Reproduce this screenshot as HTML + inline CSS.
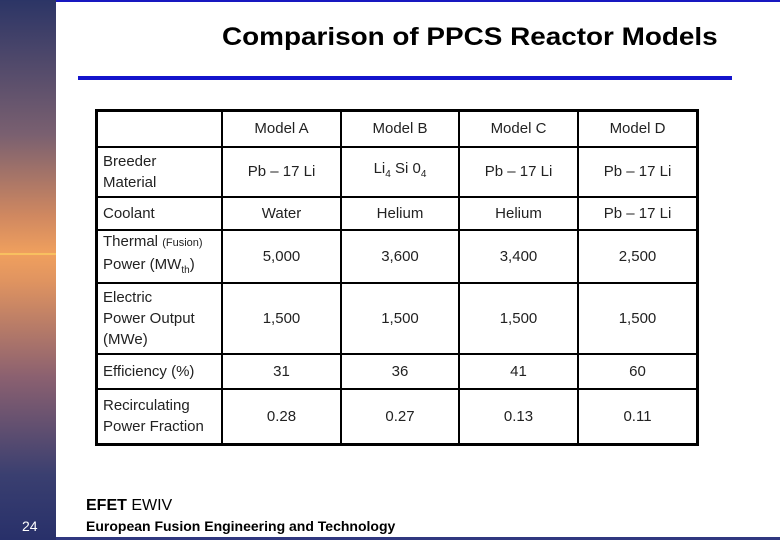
<!DOCTYPE html>
<html><head><style>
body{margin:0;width:780px;height:540px;position:relative;background:#fff;font-family:"Liberation Sans",sans-serif;overflow:hidden}
.side{position:absolute;left:0;top:0;width:56px;height:540px;background:linear-gradient(#2c3566 0%,#7a6070 25%,#d08860 40%,#f0a05e 47%,#e09460 52%,#8a6070 70%,#3a3f70 88%,#28306a 100%)}
.gl{position:absolute;left:0;top:253px;width:56px;height:2px;background:#f8c060}
table{position:absolute;left:95px;top:109px;border-collapse:collapse;border:3px solid #000}
td{border:2px solid #000;font-size:15px;color:#222;text-align:center;padding:0;line-height:21px}
td.h{text-align:left;padding-left:5px}
</style></head><body>
<div class="side"></div>
<div class="gl"></div>
<div style="position:absolute;left:56px;top:0;width:724px;height:2px;background:#1818c0"></div>
<div style="position:absolute;left:222px;top:23px;font-size:25px;font-weight:bold;color:#000;transform:scaleX(1.115);transform-origin:left">Comparison of PPCS Reactor Models</div>
<div style="position:absolute;left:78px;top:76px;width:654px;height:4px;background:#1414cc"></div>
<table>
<tr style="height:36px"><td class="h" style="width:118px"></td><td style="width:117px">Model A</td><td style="width:116px">Model B</td><td style="width:117px">Model C</td><td style="width:117px">Model D</td></tr>
<tr style="height:50px"><td class="h">Breeder<br>Material</td><td>Pb – 17 Li</td><td>Li<sub style="font-size:10px">4</sub> Si 0<sub style="font-size:10px">4</sub></td><td>Pb – 17 Li</td><td>Pb – 17 Li</td></tr>
<tr style="height:33px"><td class="h">Coolant</td><td>Water</td><td>Helium</td><td>Helium</td><td>Pb – 17 Li</td></tr>
<tr style="height:53px"><td class="h">Thermal <span style="font-size:11px">(Fusion)</span><br>Power (MW<sub style="font-size:10px">th</sub>)</td><td>5,000</td><td>3,600</td><td>3,400</td><td>2,500</td></tr>
<tr style="height:71px"><td class="h">Electric<br>Power Output<br>(MWe)</td><td>1,500</td><td>1,500</td><td>1,500</td><td>1,500</td></tr>
<tr style="height:35px"><td class="h">Efficiency (%)</td><td>31</td><td>36</td><td>41</td><td>60</td></tr>
<tr style="height:56px"><td class="h">Recirculating<br>Power Fraction</td><td>0.28</td><td>0.27</td><td>0.13</td><td>0.11</td></tr>
</table>
<div style="position:absolute;left:22px;top:518px;font-size:14px;color:#fff">24</div>
<div style="position:absolute;left:86px;top:497px;font-size:16px;color:#000"><b>EFET</b> EWIV</div>
<div style="position:absolute;left:86px;top:518px;font-size:14px;font-weight:bold;color:#000">European Fusion Engineering and Technology</div>
<div style="position:absolute;left:56px;top:537px;width:724px;height:3px;background:#303880"></div>
</body></html>
